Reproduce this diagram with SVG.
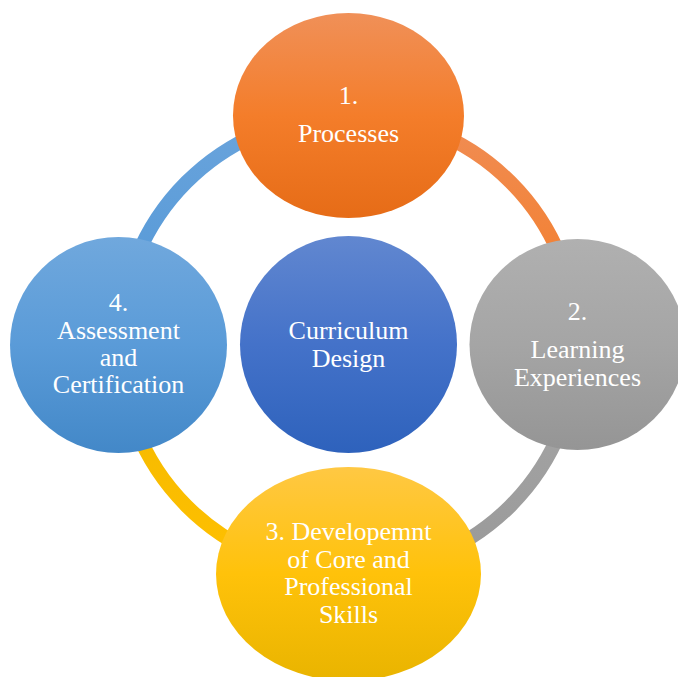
<svg xmlns="http://www.w3.org/2000/svg" width="678" height="677" viewBox="0 0 678 677">
<style>
.t{font-family:"Liberation Serif","Times New Roman",serif;font-size:26px;fill:#fff;text-anchor:middle}
.ring{fill:none;stroke-width:14}
</style>
<defs>
<linearGradient id="gO" x1="0" y1="0" x2="0" y2="1"><stop offset="0" stop-color="#F09058"/><stop offset="0.5" stop-color="#F47D2A"/><stop offset="1" stop-color="#E66C17"/></linearGradient>
<linearGradient id="gG" x1="0" y1="0" x2="0" y2="1"><stop offset="0" stop-color="#B0B0B0"/><stop offset="0.5" stop-color="#A5A5A5"/><stop offset="1" stop-color="#959595"/></linearGradient>
<linearGradient id="gY" x1="0" y1="0" x2="0" y2="1"><stop offset="0" stop-color="#FFC843"/><stop offset="0.5" stop-color="#FFC20A"/><stop offset="1" stop-color="#E9B400"/></linearGradient>
<linearGradient id="gB" x1="0" y1="0" x2="0" y2="1"><stop offset="0" stop-color="#70A8DD"/><stop offset="0.5" stop-color="#5A9BD8"/><stop offset="1" stop-color="#4388C8"/></linearGradient>
<linearGradient id="gC" x1="0" y1="0" x2="0" y2="1"><stop offset="0" stop-color="#6187D0"/><stop offset="0.5" stop-color="#4472C9"/><stop offset="1" stop-color="#2E62BC"/></linearGradient>
<linearGradient id="aO" x1="0" y1="0" x2="0" y2="1"><stop offset="0" stop-color="#F08D55"/><stop offset="1" stop-color="#F47B22"/></linearGradient>
<linearGradient id="aG" x1="0" y1="0" x2="0" y2="1"><stop offset="0" stop-color="#A8A8A8"/><stop offset="1" stop-color="#999999"/></linearGradient>
<linearGradient id="aY" x1="0" y1="0" x2="0" y2="1"><stop offset="0" stop-color="#F2B800"/><stop offset="1" stop-color="#FFC000"/></linearGradient>
<linearGradient id="aB" x1="0" y1="0" x2="0" y2="1"><stop offset="0" stop-color="#6AA4DC"/><stop offset="1" stop-color="#5096D6"/></linearGradient>
</defs>
<g id="connectors">
<path class="ring" stroke="url(#aO)" d="M348.5 115 A229 229 0 0 1 577.5 344"/>
<path class="ring" stroke="url(#aG)" d="M577.5 344 A229 229 0 0 1 348.5 573"/>
<path class="ring" stroke="url(#aY)" d="M348.5 573 A229 229 0 0 1 119.5 344"/>
<path class="ring" stroke="url(#aB)" d="M119.5 344 A229 229 0 0 1 348.5 115"/>
</g>
<g id="center">
<circle cx="348.5" cy="344.5" r="108.5" fill="url(#gC)"/>
<text class="t" x="348.5" y="339">Curriculum</text>
<text class="t" x="348.5" y="367">Design</text>
</g>
<g id="node1">
<ellipse cx="348.5" cy="115.5" rx="115.5" ry="102.5" fill="url(#gO)"/>
<text class="t" x="348.5" y="104">1.</text>
<text class="t" x="348.5" y="142">Processes</text>
</g>
<g id="node2">
<ellipse cx="577.5" cy="344.5" rx="108" ry="105.5" fill="url(#gG)"/>
<text class="t" x="577.5" y="320">2.</text>
<text class="t" x="577.5" y="358">Learning</text>
<text class="t" x="577.5" y="386">Experiences</text>
</g>
<g id="node3">
<ellipse cx="348.5" cy="574" rx="132.5" ry="107" fill="url(#gY)"/>
<text class="t" x="348.5" y="540">3. Developemnt</text>
<text class="t" x="348.5" y="568">of Core and</text>
<text class="t" x="348.5" y="595">Professional</text>
<text class="t" x="348.5" y="623">Skills</text>
</g>
<g id="node4">
<ellipse cx="118.5" cy="345" rx="108.5" ry="108" fill="url(#gB)"/>
<text class="t" x="118.5" y="311">4.</text>
<text class="t" x="118.5" y="339">Assessment</text>
<text class="t" x="118.5" y="366">and</text>
<text class="t" x="118.5" y="393">Certification</text>
</g>
</svg>
